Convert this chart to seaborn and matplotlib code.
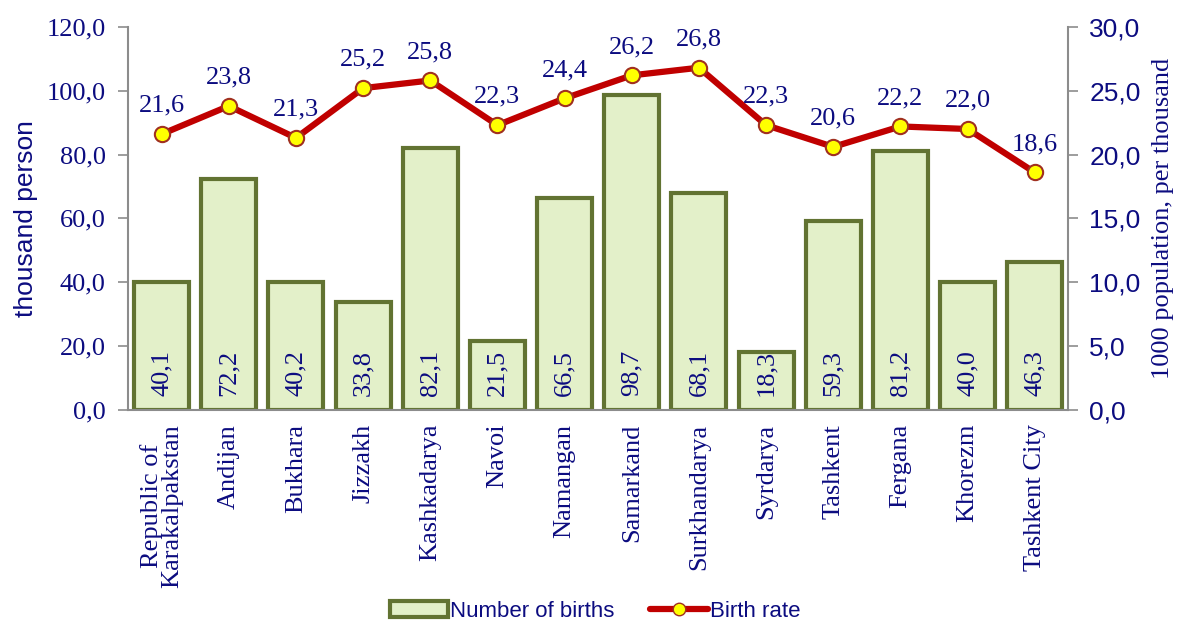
import numpy as np
import pandas as pd
import matplotlib
matplotlib.use("Agg")
import matplotlib.pyplot as plt
import seaborn as sns
from matplotlib.lines import Line2D
from matplotlib.patches import Patch

regions = ["Republic of\nKarakalpakstan", "Andijan", "Bukhara", "Jizzakh", "Kashkadarya",
           "Navoi", "Namangan", "Samarkand", "Surkhandarya", "Syrdarya", "Tashkent",
           "Fergana", "Khorezm", "Tashkent City"]
births = [40.1, 72.2, 40.2, 33.8, 82.1, 21.5, 66.5, 98.7, 68.1, 18.3, 59.3, 81.2, 40.0, 46.3]
birth_rate = [21.6, 23.8, 21.3, 25.2, 25.8, 22.3, 24.4, 26.2, 26.8, 22.3, 20.6, 22.2, 22.0, 18.6]

navy = "#0c0c80"
serif = "Liberation Serif"
sans = "Liberation Sans"
bar_face = "#e3f0c9"
bar_edge = "#627332"

sns.set_theme(style="white")
plt.rcParams["font.family"] = [sans, "DejaVu Sans"]


def comma(v):
    return f"{v:.1f}".replace(".", ",")


df = pd.DataFrame({"region": regions, "births": births, "rate": birth_rate})

fig = plt.figure(figsize=(11.91, 6.24), dpi=100)
ax = fig.add_axes([0.1075, 0.343, 0.7895, 0.614])

sns.barplot(data=df, x="region", y="births", ax=ax, color=bar_face,
            edgecolor=bar_edge, linewidth=3, width=0.82, saturation=1)
for p, v in zip(ax.patches, births):
    ax.text(p.get_x() + p.get_width() / 2, 4.5, comma(v),
            rotation=90, ha="center", va="bottom", color=navy,
            fontsize=19, family=serif)

ax.set_ylim(0, 120)
ax.set_yticks(np.arange(0, 121, 20))
ax.set_yticklabels([comma(v) for v in np.arange(0, 121, 20)],
                   family=serif, fontsize=19, color=navy)
ax.set_xlim(-0.5, len(regions) - 0.5)
ax.set_xticks(np.arange(len(regions)))
ax.set_xticklabels(regions, rotation=90, family=serif, fontsize=19, color=navy,
                   linespacing=0.95)
ax.tick_params(axis="x", length=0, pad=10)
ax.set_xticks(np.arange(len(regions) + 1) - 0.5, minor=True)
ax.tick_params(axis="x", which="minor", length=7, color="#8c8c8c", width=1.2, direction="out")
ax.tick_params(axis="y", length=7, color="#8c8c8c", width=1.2, direction="out", pad=9)
ax.set_xlabel("")
ax.set_ylabel("thousand person", fontsize=19, color=navy, family=sans, labelpad=6)
for s in ["top", "right"]:
    ax.spines[s].set_visible(False)
for s in ["left", "bottom"]:
    ax.spines[s].set_color("#8c8c8c")
    ax.spines[s].set_linewidth(1.5)

ax2 = ax.twinx()
xpos = np.arange(len(regions))
sns.lineplot(x=xpos, y=birth_rate, ax=ax2, color="#c00000", linewidth=4.5,
             marker="o", markersize=11, markerfacecolor="#ffff00",
             markeredgecolor="#a03020", markeredgewidth=1.5)
for x, v in zip(xpos, birth_rate):
    ax2.text(x, v + 1.35, comma(v), ha="center", va="bottom",
             color=navy, fontsize=19, family=serif)
ax2.set_ylim(0, 30)
ax2.set_xlim(-0.5, len(regions) - 0.5)
ax2.set_yticks(np.arange(0, 31, 5))
ax2.set_yticklabels([comma(v) for v in np.arange(0, 31, 5)],
                    family=sans, fontsize=19, color=navy)
ax2.tick_params(axis="y", length=7, color="#8c8c8c", width=1.2, direction="out", pad=8)
ax2.set_ylabel("1000 population, per thousand", fontsize=19, color=navy,
               family=serif, labelpad=8)
for s in ["top", "left", "bottom"]:
    ax2.spines[s].set_visible(False)
ax2.spines["right"].set_color("#8c8c8c")
ax2.spines["right"].set_linewidth(1.5)
ax2.grid(False)
ax.grid(False)

handles = [Patch(facecolor=bar_face, edgecolor=bar_edge, linewidth=3),
           Line2D([], [], color="#c00000", linewidth=4.5, marker="o", markersize=9,
                  markerfacecolor="#ffff00", markeredgecolor="#a03020")]
leg = fig.legend(handles, ["Number of births", "Birth rate"], loc="center",
                 bbox_to_anchor=(0.50, 0.02), ncol=2, frameon=False, fontsize=16,
                 handlelength=2.6, handletextpad=0.1, columnspacing=1.6)
for t in leg.get_texts():
    t.set_color(navy)

fig.savefig("out.png", dpi=100)
